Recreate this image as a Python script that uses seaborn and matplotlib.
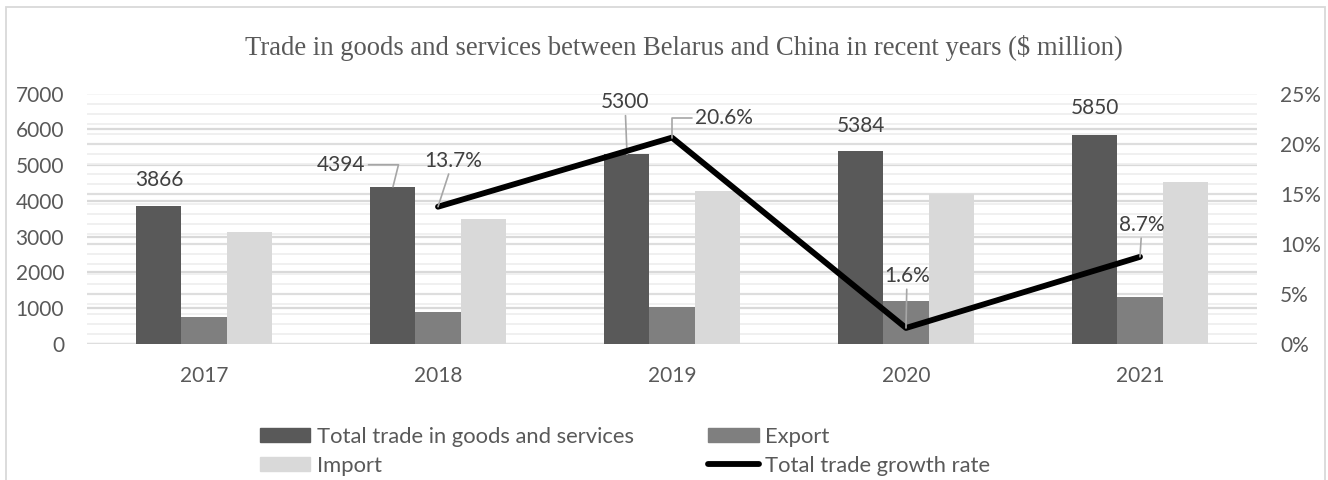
#====================================================================
# Trade Belarus - China: barras + tasa de crecimiento
#====================================================================

import numpy as np
import pandas as pd
import matplotlib
matplotlib.use("Agg")
import matplotlib.pyplot as plt
import seaborn as sns
from matplotlib.patches import Patch, Rectangle
from matplotlib.lines import Line2D
from matplotlib.ticker import MultipleLocator

#====================================================================
# DATOS
#====================================================================

years = ["2017", "2018", "2019", "2020", "2021"]
total_trade = [3866, 4394, 5300, 5384, 5850]
export = [750, 895, 1025, 1195, 1320]
imports = [3116, 3499, 4275, 4189, 4530]

growth_years = ["2018", "2019", "2020", "2021"]
growth_rate = [13.7, 20.6, 1.6, 8.7]

series_names = ["Total trade in goods and services", "Export", "Import"]
growth_name = "Total trade growth rate"
title = "Trade in goods and services between Belarus and China in recent years ($ million)"

y_ticks = [0, 1000, 2000, 3000, 4000, 5000, 6000, 7000]
pct_ticks = [0, 5, 10, 15, 20, 25]

#====================================================================
# ESTILO
#====================================================================

sns.set_theme(style="white")
plt.rcParams["font.family"] = ["Lato", "DejaVu Sans"]

bar_colors = ["#595959", "#7f7f7f", "#d9d9d9"]
text_col = "#595959"
label_col = "#404040"
lead_col = "#a6a6a6"
fs = 15

df = pd.DataFrame({
    "year": years * 3,
    "value": total_trade + export + imports,
    "series": np.repeat(series_names, len(years)),
})

#====================================================================
# FIGURA
#====================================================================

W, H = 1328, 480
fig = plt.figure(figsize=(W / 100, H / 100), dpi=100)
ax = fig.add_axes([87 / W, 1 - 344 / H, 1170 / W, (344 - 93.5) / H])

group_w = 0.577
bw = group_w / 3

sns.barplot(
    data=df, x="year", y="value", hue="series",
    palette=bar_colors, width=group_w, saturation=1,
    linewidth=0, ax=ax, legend=False
)

ax.set_ylim(y_ticks[0], y_ticks[-1])
ax.set_yticks(y_ticks)
ax.set_xlabel("")
ax.set_ylabel("")

# lineas de grilla (primaria + secundaria escalada)
ax.set_axisbelow(True)
scale = y_ticks[-1] / pct_ticks[-1]
ax.yaxis.set_minor_locator(MultipleLocator(scale))
ax.grid(axis="y", which="minor", color="#efefef", lw=1.3)
ax.grid(axis="y", which="major", color="#d9d9d9", lw=1.6)
for p in pct_ticks:
    ax.axhline(p * scale, color="#dedede", lw=1.6, zorder=0.6)

for s in ax.spines.values():
    s.set_visible(False)

ax.tick_params(axis="both", which="minor", length=0)
ax.tick_params(axis="x", length=0, pad=16, labelsize=fs, labelcolor=text_col)
ax.tick_params(axis="y", length=0, pad=16.5, labelsize=fs, labelcolor=text_col)

#====================================================================
# EJE SECUNDARIO - TASA DE CRECIMIENTO
#====================================================================

ax2 = ax.twinx()
gx = [years.index(y) for y in growth_years]

sns.lineplot(
    x=gx, y=growth_rate, ax=ax2,
    color="black", linewidth=4.2, solid_capstyle="round"
)

ax2.set_ylim(pct_ticks[0], pct_ticks[-1])
ax2.set_yticks(pct_ticks)
ax2.set_yticklabels([f"{p}%" for p in pct_ticks])
ax2.set_ylabel("")
ax2.tick_params(axis="y", which="both", length=0, pad=16.5,
                labelsize=fs, labelcolor=text_col)
for s in ax2.spines.values():
    s.set_visible(False)
ax.set_xlim(-0.5, len(years) - 0.5)

#====================================================================
# ETIQUETAS DE DATOS
#====================================================================

total_offsets = [(0, 26), (-52, 22), (-2, 52), (0, 25), (0, 27)]
total_leaders = [None, "angle,angleA=0,angleB=76", "arc3", None, None]

for i, (v, off, cs) in enumerate(zip(total_trade, total_offsets, total_leaders)):
    arrow = None
    if cs is not None:
        arrow = dict(arrowstyle="-", color=lead_col, lw=1.2,
                     connectionstyle=cs, shrinkA=0, shrinkB=0)
    ax.annotate(
        str(v), xy=(i - bw, v), xytext=off, textcoords="offset pixels",
        ha="center", va="center", fontsize=fs, color=label_col,
        arrowprops=arrow, annotation_clip=False
    )

pct_offsets = [(15, 46), (52, 20), (1, 52), (2, 32)]
pct_leaders = ["arc3", "angle,angleA=0,angleB=90", "arc3", "arc3"]

for x, v, off, cs in zip(gx, growth_rate, pct_offsets, pct_leaders):
    ax2.annotate(
        f"{v}%", xy=(x, v), xytext=off, textcoords="offset pixels",
        ha="center", va="center", fontsize=fs, color=label_col,
        arrowprops=dict(arrowstyle="-", color=lead_col, lw=1.2,
                        connectionstyle=cs, shrinkA=0, shrinkB=0),
        annotation_clip=False
    )

#====================================================================
# TITULO, LEYENDA, MARCO
#====================================================================

fig.text(684 / W, 1 - 48 / H, title, ha="center", va="center",
         fontsize=19.2, color=text_col, family=["Liberation Serif", "DejaVu Serif"])

handles = [
    Patch(color=bar_colors[0]),
    Patch(color=bar_colors[2]),
    Patch(color=bar_colors[1]),
    Line2D([], [], color="black", lw=4.2, solid_capstyle="round"),
]
labels = [series_names[0], series_names[2], series_names[1], growth_name]

fig.legend(
    handles, labels, ncol=2, loc="upper left",
    bbox_to_anchor=(260 / W, 1 - 427 / H),
    frameon=False, fontsize=15.8, labelcolor=text_col,
    handlelength=2.3, handleheight=0.6, handletextpad=0.28,
    columnspacing=3.4, labelspacing=0.4, borderpad=0, borderaxespad=0
)

fig.patches.append(Rectangle(
    (6 / W, -0.05), (1325 - 6) / W, 1.05 - 7 / H,
    transform=fig.transFigure, fill=False, edgecolor="#d9d9d9", lw=1.3
))

fig.savefig("out.png", dpi=100)
